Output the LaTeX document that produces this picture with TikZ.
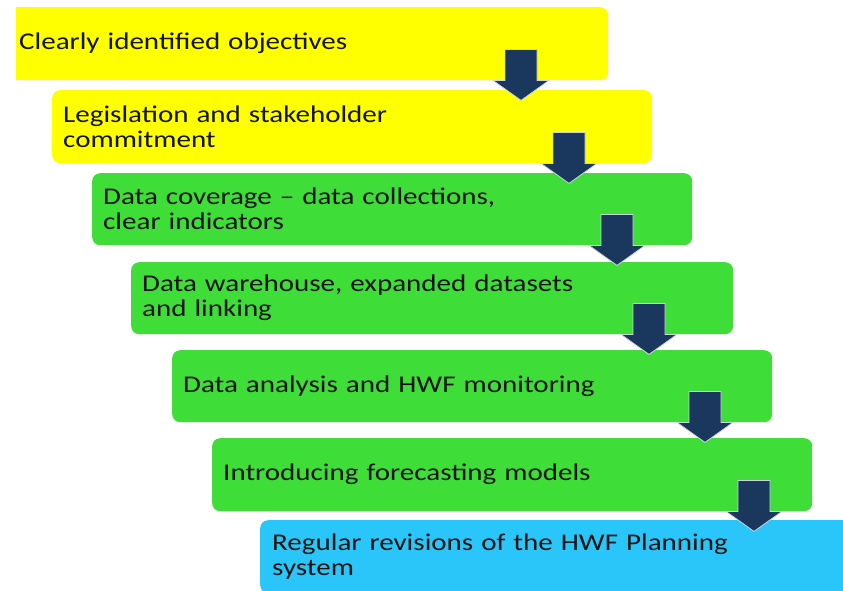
\documentclass[tikz,border=0pt]{standalone}
\usepackage{fontspec}
\setmainfont[FakeStretch=1.21]{Carlito}
\definecolor{boxyellow}{RGB}{255,255,0}
\definecolor{boxgreen}{RGB}{62,221,56}
\definecolor{boxblue}{RGB}{42,198,250}
\definecolor{arrownavy}{RGB}{26,55,94}
\definecolor{arrowrim}{RGB}{205,212,224}
\definecolor{textdark}{RGB}{20,20,20}
\tikzset{
  stepbox/.style={anchor=north west, rounded corners=8pt, inner xsep=11pt, inner ysep=0pt,
    align=left, text=textdark, font=\fontsize{24pt}{25pt}\selectfont},
  downarrow/.pic={\path[fill=arrownavy, draw=arrowrim, line width=0.8pt, line join=miter]
    (-16,-31) -- (16,-31) -- (16,0) -- (28,0) -- (0,20) -- (-28,0) -- (-16,0) -- cycle;}
}
\begin{document}
\begin{tikzpicture}[x=1pt,y=-1pt]
\useasboundingbox (0,0) rectangle (843,590);
\clip (0,0) rectangle (843,590);
\fill[boxyellow] (16,7) rectangle (40,80);
\node[stepbox, fill=boxyellow, inner xsep=3pt, text width=586pt, minimum height=73pt] (b1) at (16,7) {Clearly identified objectives};
\node[stepbox, fill=boxyellow, text width=578pt, minimum height=73pt] (b2) at (52,90) {Legislation and stakeholder\\commitment};
\node[stepbox, fill=boxgreen, text width=578pt, minimum height=72pt] (b3) at (92,173) {Data coverage – data collections,\\clear indicators};
\node[stepbox, fill=boxgreen, text width=580pt, minimum height=72pt] (b4) at (131,262) {Data warehouse, expanded datasets\\and linking};
\node[stepbox, fill=boxgreen, text width=578pt, minimum height=72pt] (b5) at (172,350) {Data analysis and HWF monitoring};
\node[stepbox, fill=boxgreen, text width=578pt, minimum height=73pt] (b6) at (212,438) {Introducing forecasting models};
\node[stepbox, fill=boxblue, inner xsep=12pt, text width=576pt, minimum height=73pt] (b7) at (260,520) {Regular revisions of the HWF Planning\\system};
\pic (a1) at (521,0 |- b1.south) {downarrow};
\pic (a2) at (569,0 |- b2.south) {downarrow};
\pic (a3) at (617,0 |- b3.south) {downarrow};
\pic (a4) at (649,0 |- b4.south) {downarrow};
\pic (a5) at (705,0 |- b5.south) {downarrow};
\pic (a6) at (754,0 |- b6.south) {downarrow};
\end{tikzpicture}
\end{document}
